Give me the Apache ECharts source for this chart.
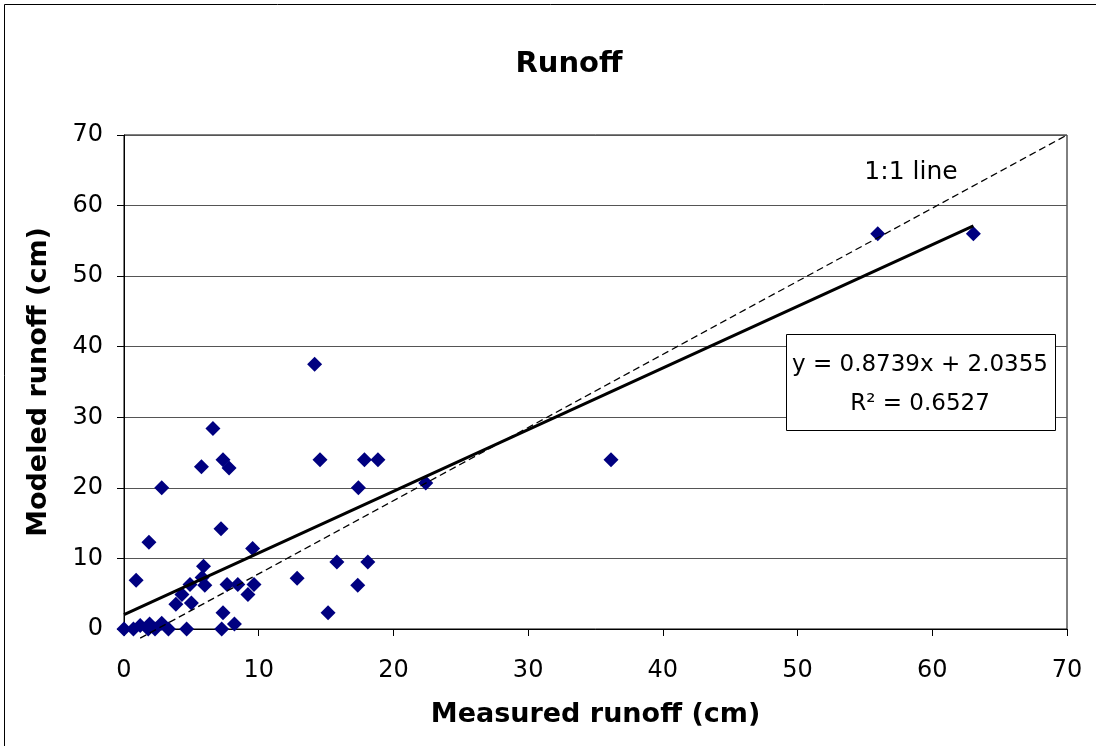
<!DOCTYPE html>
<html>
<head>
<meta charset="utf-8">
<script src="https://cdn.jsdelivr.net/npm/echarts@6/dist/echarts.min.js"></script>
<style>
html,body{margin:0;padding:0;background:#fff;}
#chart{width:1096px;height:746px;}
</style>
</head>
<body>
<div id="chart"></div>
<script>
// Measured vs modeled runoff (cm)
const measured = [0, 0.7, 1.2, 1.8, 1.9, 2.3, 2.8, 3.3, 4.65, 7.25,
  0.9, 1.85, 2.8, 3.85, 4.3, 4.9, 5.0, 5.8, 5.9, 6.0,
  5.75, 6.6, 7.35, 7.8, 7.2, 7.35, 8.2, 7.65, 8.45, 9.2,
  9.65, 9.55, 12.85, 14.15, 14.55, 15.15, 15.8, 17.35, 17.4, 17.85,
  18.1, 18.85, 22.4, 36.15, 55.95, 63.05];
const modeled = [0, 0, 0.5, 0, 0.7, 0, 0.8, 0, 0, 0,
  6.9, 12.3, 20.0, 3.5, 4.9, 6.3, 3.7, 7.3, 8.9, 6.2,
  23.0, 28.4, 24.0, 22.8, 14.2, 2.3, 0.7, 6.3, 6.3, 4.9,
  6.3, 11.4, 7.2, 37.5, 24.0, 2.3, 9.5, 6.2, 20.0, 24.0,
  9.5, 24.0, 20.7, 24.0, 56.0, 56.0];
// Linear trendline endpoints (y = 0.8739x + 2.0355)
const trendX = [0, 63.05];
const trendY = [2.04, 57.13];
// Hand-drawn 1:1 line endpoints as seen in the picture
const oneX = [1.2, 70];
const oneY = [-1.3, 70];
const xTicks = [0, 10, 20, 30, 40, 50, 60, 70];
const yTicks = [0, 10, 20, 30, 40, 50, 60, 70];
const titleText = 'Runoff';
const xName = 'Measured runoff (cm)';
const yName = 'Modeled runoff (cm)';
const eqLine1 = 'y = 0.8739x + 2.0355';
const eqLine2 = 'R\u00B2 = 0.6527';
const lineLabel = '1:1 line';

const points = measured.map((x, i) => [x, modeled[i]]);
const trend = trendX.map((x, i) => [x, trendY[i]]);
const oneLine = oneX.map((x, i) => [x, oneY[i]]);

const FONT = 'DejaVu Sans';
const chart = echarts.init(document.getElementById('chart'), null, {renderer: 'canvas'});
chart.setOption({
  animation: false,
  backgroundColor: '#fff',
  title: {
    text: titleText,
    left: 564, top: 45, textAlign: 'center',
    textStyle: {fontFamily: FONT, fontWeight: 'bold', fontSize: 29, color: '#000'}
  },
  grid: {left: 124, top: 135, width: 943, height: 494, show: true,
    borderColor: '#000', borderWidth: 1, backgroundColor: 'transparent'},
  xAxis: {
    type: 'value', min: xTicks[0], max: xTicks[xTicks.length - 1], interval: 10,
    name: xName, nameLocation: 'middle', nameGap: 72,
    nameTextStyle: {fontFamily: FONT, fontWeight: 'bold', fontSize: 27, color: '#000'},
    axisLine: {show: true, lineStyle: {color: '#000', width: 1}},
    axisTick: {show: true, length: 7, lineStyle: {color: '#000'}},
    axisLabel: {fontFamily: FONT, fontSize: 24, color: '#000', margin: 30},
    splitLine: {show: false}
  },
  yAxis: {
    type: 'value', min: yTicks[0], max: yTicks[yTicks.length - 1], interval: 10,
    name: yName, nameLocation: 'middle', nameGap: 72, nameRotate: 90,
    nameTextStyle: {fontFamily: FONT, fontWeight: 'bold', fontSize: 27, color: '#000'},
    axisLine: {show: true, lineStyle: {color: '#000', width: 1}},
    axisTick: {show: true, length: 7, lineStyle: {color: '#000'}},
    axisLabel: {fontFamily: FONT, fontSize: 24, color: '#000', margin: 21},
    splitLine: {show: true, lineStyle: {color: '#555', width: 1.2}}
  },
  series: [
    {
      type: 'scatter', data: points, symbol: 'diamond', symbolSize: 15,
      itemStyle: {color: '#000080', opacity: 1}, z: 3
    },
    {
      type: 'line', data: trend, showSymbol: false, symbol: 'none', clip: false,
      lineStyle: {color: '#000', width: 3}, z: 4
    },
    {
      type: 'line', data: oneLine, showSymbol: false, symbol: 'none', clip: false,
      lineStyle: {color: '#000', width: 1.3, type: [7, 4]}, z: 5
    }
  ],
  graphic: [
    {type: 'rect', z: 100, shape: {x: 4.5, y: 4.5, width: 1200, height: 1200},
      style: {fill: 'none', stroke: '#000', lineWidth: 1}},
    {type: 'rect', z: 100, shape: {x: 786.5, y: 334.5, width: 269, height: 96},
      style: {fill: '#fff', stroke: '#000', lineWidth: 1}},
    {type: 'text', z: 101, x: 920, y: 365,
      style: {text: eqLine1, fontFamily: FONT, fontSize: 23, fill: '#000', textAlign: 'center', textVerticalAlign: 'middle'}},
    {type: 'text', z: 101, x: 920, y: 404,
      style: {text: eqLine2, fontFamily: FONT, fontSize: 23, fill: '#000', textAlign: 'center', textVerticalAlign: 'middle'}},
    {type: 'text', z: 101, x: 911, y: 172,
      style: {text: lineLabel, fontFamily: FONT, fontSize: 25, fill: '#000', textAlign: 'center', textVerticalAlign: 'middle'}}
  ]
});
</script>
</body>
</html>
